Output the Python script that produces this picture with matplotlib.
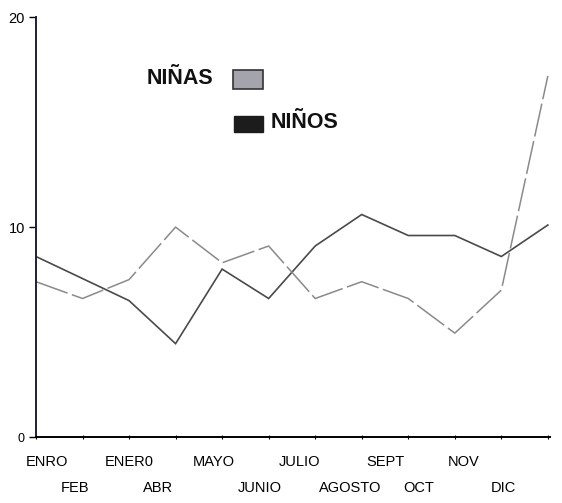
import matplotlib.pyplot as plt
import numpy as np
from matplotlib.patches import Rectangle

plt.rcParams['font.family'] = ['Liberation Sans', 'DejaVu Sans']

# data
meses = ['ENRO', 'FEB', 'ENER0', 'ABR', 'MAYO', 'JUNIO',
         'JULIO', 'AGOSTO', 'SEPT', 'OCT', 'NOV', 'DIC']
ninas = [7.4, 6.6, 7.5, 10.0, 8.3, 9.1, 6.6, 7.4, 6.6, 4.95, 7.0, 17.2]
ninos = [8.6, 7.55, 6.5, 4.45, 8.0, 6.6, 9.1, 10.6, 9.6, 9.6, 8.6, 10.1]

# label centres (in x units) - labels sit a bit to the left of the points
label_pos = [0.24, 0.84, 2.01, 2.63, 3.83, 4.8, 5.67, 6.75, 7.52, 8.22, 9.19, 10.04]

fig = plt.figure(figsize=(5.62, 5.03), dpi=100)
ax = fig.add_axes([0.064, 0.131, 0.915, 0.835])

x = np.arange(len(meses))
ax.plot(x, ninos, color='#4a4a4a', lw=1.2, solid_joinstyle='miter')
ax.plot(x, ninas, color='#8a8a8a', lw=1.1, dashes=(22, 3))

ax.set_xlim(0, 11.05)
ax.set_ylim(0, 20)
ax.set_yticks([0, 10, 20])
ax.set_yticklabels(['0', '10', '20'], fontsize=10.5)
ax.get_yticklabels()[0].set_fontsize(9)
ax.tick_params(axis='y', direction='out', length=5, width=1, pad=3)

# small tick marks on the points, labels in two rows
ax.set_xticks(x, minor=True)
ax.tick_params(axis='x', which='minor', direction='inout', length=3, width=0.8)
ax.set_xticks([])
for i, (p, m) in enumerate(zip(label_pos, meses)):
    yoff = -0.06 if i % 2 == 0 else -0.122
    ax.text(p, yoff, m, transform=ax.get_xaxis_transform(), ha='center',
            va='center', fontsize=10.5)

for s in ['top', 'right']:
    ax.spines[s].set_visible(False)
ax.spines['left'].set_color('#1e1e3a')
ax.spines['left'].set_linewidth(1.4)
ax.spines['bottom'].set_linewidth(1.4)

# legend drawn by hand like in the original
fig.text(147 / 562, 1 - 78 / 503, 'NIÑAS', fontsize=15.5, fontweight='bold',
         va='center', ha='left', color='#111111')
fig.patches.append(Rectangle((233 / 562, 1 - 89 / 503), 30 / 562, 19 / 503,
                             transform=fig.transFigure, facecolor='#a4a4ac',
                             edgecolor='#333333', lw=1.2))
fig.patches.append(Rectangle((234 / 562, 1 - 132 / 503), 29 / 562, 16 / 503,
                             transform=fig.transFigure, facecolor='#1c1c1c',
                             edgecolor='#1c1c1c', lw=1))
fig.text(271 / 562, 1 - 123 / 503, 'NIÑOS', fontsize=15.5, fontweight='bold',
         va='center', ha='left', color='#111111')

fig.savefig('out.png', dpi=100)
